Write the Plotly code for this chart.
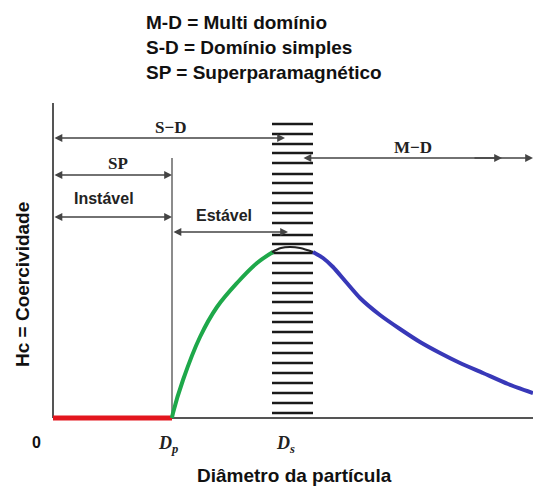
import plotly.graph_objects as go

# ---- data (x: particle diameter units, y: coercivity units) ----
D_P = 119          # superparamagnetic threshold diameter
DS_LO, DS_HI = 219, 260   # single-domain / multi-domain transition band
X_MAX = 480
Y_TOP = 315

red_x = [0, 119]
red_y = [0, 0]

green_x = [119, 120, 130, 147, 164, 184, 204, 220]
green_y = [0, 5, 38, 81, 111, 135, 155, 166]

peak_x = [219, 228, 237, 247, 260]
peak_y = [166, 170, 171, 170, 166]

blue_x = [260, 270, 280, 293, 307, 327, 347, 367, 387, 407, 430, 455, 480]
blue_y = [166, 160, 151, 136, 120, 103, 89, 76, 65, 55, 45, 34, 25]

stripe_y = [294, 284, 274, 265, 255, 244, 235, 225, 215, 205, 195, 183, 174,
            165, 155, 145, 135, 125, 116, 105, 96, 86, 75, 65, 55, 45, 35, 25, 15, 5]

legend_lines = ["M-D = Multi domínio", "S-D = Domínio simples", "SP = Superparamagnético"]

# arrows: (label, y, x_start, x_end)
arrow_sd = ("S\u2212D", 280, 0, 232)
arrow_sp = ("SP", 243, 0, D_P)
arrow_inst = ("Instável", 201, 0, D_P)
arrow_est = ("Estável", 186, D_P, 235)
arrow_md = ("M\u2212D", 260, 249, X_MAX)

fig = go.Figure()

# axes lines
fig.add_trace(go.Scatter(x=[0, 0, None, 0, X_MAX], y=[Y_TOP, 0, None, 0, 0], mode="lines",
                         line=dict(color="#555555", width=2), hoverinfo="skip"))
# Dp vertical
fig.add_trace(go.Scatter(x=[D_P, D_P], y=[0, 260], mode="lines",
                         line=dict(color="#666666", width=1.5), hoverinfo="skip"))
# stripes
sx, sy = [], []
for v in stripe_y:
    sx += [DS_LO, DS_HI, None]
    sy += [v, v, None]
fig.add_trace(go.Scatter(x=sx, y=sy, mode="lines", line=dict(color="#1a1a1a", width=2.5),
                         hoverinfo="skip"))

fig.add_trace(go.Scatter(x=red_x, y=red_y, mode="lines", line=dict(color="#e3161e", width=5)))
fig.add_trace(go.Scatter(x=green_x, y=green_y, mode="lines", line=dict(color="#1ea84a", width=4, shape="spline")))
fig.add_trace(go.Scatter(x=peak_x, y=peak_y, mode="lines", line=dict(color="#222222", width=2, shape="spline")))
fig.add_trace(go.Scatter(x=blue_x, y=blue_y, mode="lines",
                         line=dict(color="#3838b8", width=4, shape="spline", smoothing=0.6)))

ann = []
arrow_kw = dict(xref="x", yref="y", axref="x", ayref="y", text="", showarrow=True,
                arrowhead=2, startarrowhead=2, arrowsize=1.2, startarrowsize=1.2,
                arrowwidth=1.3, arrowcolor="#444444", arrowside="end+start")

serif = dict(family="Liberation Serif, Times New Roman, serif", size=17, color="#222222")
sans = dict(family="Liberation Sans, Arial, sans-serif", size=16, color="#222222")

for (lab, yv, x0, x1), (lx, ly, font) in zip(
        [arrow_sd, arrow_sp, arrow_inst, arrow_est, arrow_md],
        [(117, 291, serif), (65, 255, serif), (51, 220, sans), (171, 203, sans), (360, 271, serif)]):
    ann.append(dict(x=x1, y=yv, ax=x0, ay=yv, **arrow_kw))
    ann.append(dict(x=lx, y=ly, xref="x", yref="y", text="<b>" + lab + "</b>",
                    showarrow=False, font=font))

# extra arrowhead on M-D line
ann.append(dict(x=449, y=260, ax=420, ay=260, xref="x", yref="y", axref="x", ayref="y",
                text="", showarrow=True, arrowhead=2, arrowsize=1.2, arrowwidth=1.3,
                arrowcolor="#444444"))

bold = dict(family="Liberation Sans, Arial, sans-serif", size=19, color="#111111")
for i, t in enumerate(legend_lines):
    ann.append(dict(x=91, y=396 - 25 * i, xref="x", yref="y", text="<b>" + t + "</b>",
                    showarrow=False, xanchor="left", font=bold))

ann.append(dict(x=-31, y=133, xref="x", yref="y", text="<b>Hc = Coercividade</b>",
                showarrow=False, textangle=-90, font=bold))
ann.append(dict(x=241, y=-57, xref="x", yref="y", text="<b>Diâmetro da partícula</b>",
                showarrow=False, font=bold))
ann.append(dict(x=-17, y=-24, xref="x", yref="y", text="<b>0</b>", showarrow=False,
                font=dict(family="Liberation Sans, Arial", size=16, color="#111111")))
ann.append(dict(x=D_P - 4, y=-26, xref="x", yref="y", text="<b><i>D</i><sub><i>p</i></sub></b>",
                showarrow=False, font=dict(family="Liberation Serif, Times New Roman", size=18, color="#222222")))
ann.append(dict(x=232, y=-26, xref="x", yref="y", text="<b><i>D</i><sub><i>s</i></sub></b>",
                showarrow=False, font=dict(family="Liberation Serif, Times New Roman", size=18, color="#222222")))

fig.update_layout(
    width=533, height=486, margin=dict(l=0, r=0, t=0, b=0),
    paper_bgcolor="white", plot_bgcolor="white", showlegend=False,
    xaxis=dict(range=[-53, 480], visible=False, fixedrange=True),
    yaxis=dict(range=[-68, 418], visible=False, fixedrange=True),
    annotations=ann,
)

fig.write_html("out.html")
